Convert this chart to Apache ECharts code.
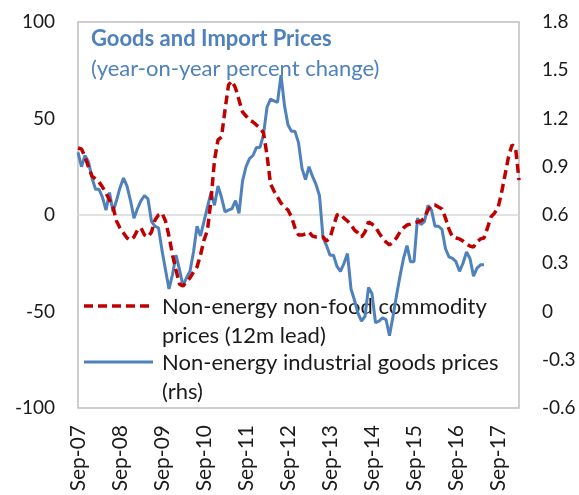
<!DOCTYPE html>
<html>
<head>
<meta charset="utf-8">
<script src="https://cdn.jsdelivr.net/npm/echarts@6/dist/echarts.min.js"></script>
<style>
html,body{margin:0;padding:0;background:#fff;}
#chart{width:579px;height:495px;}
</style>
</head>
<body>
<div id="chart"></div>
<script>
// months Sep-07 .. Mar-18
var monthNames = ['Jan','Feb','Mar','Apr','May','Jun','Jul','Aug','Sep','Oct','Nov','Dec'];
var startYear = 2007, startMonth = 8, monthCount = 127;

// non-energy non-food commodity prices, 12m lead (lhs)
var commodity = [
	34.7,34.2,30.1,24.9,20.2,18.7,17.1,14.5,11.4,7.8,
	4.1,-3.1,-6.7,-9.3,-11.9,-13.0,-11.4,-7.8,-6.7,-10.4,
	-11.4,-8.8,-2.6,0,1.0,-3.1,-10.9,-20.7,-28.5,-35.8,
	-36.8,-34.7,-32.6,-29.5,-26.9,-20.7,-13.0,-7.8,7.8,28.5,
	38.9,40.4,54.4,67.4,69.4,65.8,59.6,53.4,51.3,49.2,
	48.2,46.6,45.1,42.5,31.1,16.1,12.4,9.3,6.2,4.1,
	2.6,-1.0,-6.7,-10.4,-10.4,-9.8,-8.8,-10.9,-11.4,-11.4,
	-11.4,-13.5,-11.9,-5.7,0,0.5,-1.6,-3.1,-5.2,-7.8,
	-9.3,-11.4,-8.8,-3.6,-4.7,-6.2,-9.3,-11.9,-14.0,-15.5,
	-14.0,-11.9,-8.8,-6.7,-5.2,-4.7,-4.1,-3.6,-3.1,-1.6,
	2.6,5.2,5.2,4.1,3.1,-1.6,-7.3,-11.4,-11.9,-12.4,
	-13.5,-15.0,-16.1,-16.6,-14.0,-12.4,-11.9,-6.7,-1.0,1.0,
	3.6,11.4,20.7,30.1,36.3,35.2,18.1
];

// non-energy industrial goods prices (rhs)
var industrial = [
	0.99,0.90,0.97,0.93,0.83,0.76,0.76,0.71,0.63,0.74,
	0.62,0.69,0.77,0.83,0.78,0.69,0.58,0.64,0.69,0.72,
	0.70,0.56,0.53,0.52,0.38,0.26,0.14,0.23,0.35,0.26,
	0.16,0.21,0.25,0.37,0.53,0.47,0.56,0.65,0.74,0.66,
	0.78,0.71,0.62,0.63,0.64,0.69,0.61,0.81,0.90,0.95,
	0.97,1.02,1.02,1.10,1.27,1.32,1.31,1.30,1.47,1.28,
	1.16,1.12,1.12,1.05,0.89,0.82,0.90,0.84,0.79,0.72,
	0.46,0.41,0.35,0.35,0.28,0.25,0.30,0.36,0.14,0.07,
	-0.01,-0.06,-0.03,0.15,0.11,-0.07,-0.06,-0.04,-0.05,-0.15,
	-0.03,0.10,0.22,0.33,0.41,0.31,0.31,0.58,0.54,0.56,
	0.66,0.63,0.53,0.53,0.51,0.39,0.34,0.33,0.31,0.25,
	0.30,0.37,0.33,0.22,0.27,0.29,0.29
];

var months = [];
for(var i=0;i<monthCount;i++){
	var m = (startMonth+i)%12;
	var y = startYear + Math.floor((startMonth+i)/12);
	months.push(monthNames[m]+'-'+String(y).slice(2));
}

var fontName = 'Lato';
var blue = '#4F81BD';
var red = '#C00000';

var myChart = echarts.init(document.getElementById('chart'));
var option = {
	backgroundColor:'#fff',
	animation:false,
	title:{
		text:'Goods and Import Prices',
		subtext:'(year-on-year percent change)',
		left:91,
		top:28,
		padding:0,
		itemGap:8,
		textStyle:{fontFamily:fontName,fontSize:22,fontWeight:'bold',color:blue},
		subtextStyle:{fontFamily:fontName,fontSize:22,color:blue}
	},
	grid:{
		left:78,
		right:60,
		top:22,
		bottom:87,
		show:true,
		borderColor:'#BFBFBF',
		borderWidth:1.5
	},
	xAxis:{
		type:'category',
		boundaryGap:false,
		data:months,
		axisLine:{show:false},
		axisTick:{show:false},
		axisLabel:{
			interval:11,
			rotate:90,
			margin:17,
			fontFamily:fontName,
			fontSize:21,
			color:'#1a1a1a'
		},
		splitLine:{show:false}
	},
	yAxis:[
		{
			type:'value',
			min:-100,
			max:100,
			interval:50,
			axisLine:{show:false},
			axisTick:{show:false},
			splitLine:{show:false},
			axisLabel:{margin:23,fontFamily:fontName,fontSize:19,color:'#1a1a1a'}
		},
		{
			type:'value',
			min:-0.6,
			max:1.8,
			interval:0.3,
			axisLine:{show:false},
			axisTick:{show:false},
			splitLine:{show:false},
			axisLabel:{margin:23,fontFamily:fontName,fontSize:19,color:'#1a1a1a'}
		}
	],
	series:[
		{
			name:'Non-energy non-food commodity prices (12m lead)',
			type:'line',
			yAxisIndex:0,
			data:commodity,
			symbol:'none',
			z:3,
			lineStyle:{color:red,width:3.5,type:[9,5]},
			markLine:{
				silent:true,
				symbol:'none',
				label:{show:false},
				lineStyle:{color:'#D9D9D9',width:1.5,type:'solid'},
				data:[{yAxis:0}],
				z:1
			}
		},
		{
			name:'Non-energy industrial goods prices (rhs)',
			type:'line',
			yAxisIndex:1,
			data:industrial,
			symbol:'none',
			z:2,
			lineStyle:{color:blue,width:3}
		}
	],
	graphic:{
		elements:[
			{type:'line',shape:{x1:84,y1:306,x2:153,y2:306},style:{stroke:red,lineWidth:3.5,lineDash:[9,5]}},
			{type:'text',left:162,top:292,style:{text:'Non-energy non-food commodity\nprices (12m lead)',font:'22px Lato',fill:'#1a1a1a',lineHeight:29}},
			{type:'line',shape:{x1:84,y1:362,x2:153,y2:362},style:{stroke:blue,lineWidth:3}},
			{type:'text',left:162,top:348,style:{text:'Non-energy industrial goods prices\n(rhs)',font:'22px Lato',fill:'#1a1a1a',lineHeight:29}}
		]
	}
};
myChart.setOption(option);
</script>
</body>
</html>
